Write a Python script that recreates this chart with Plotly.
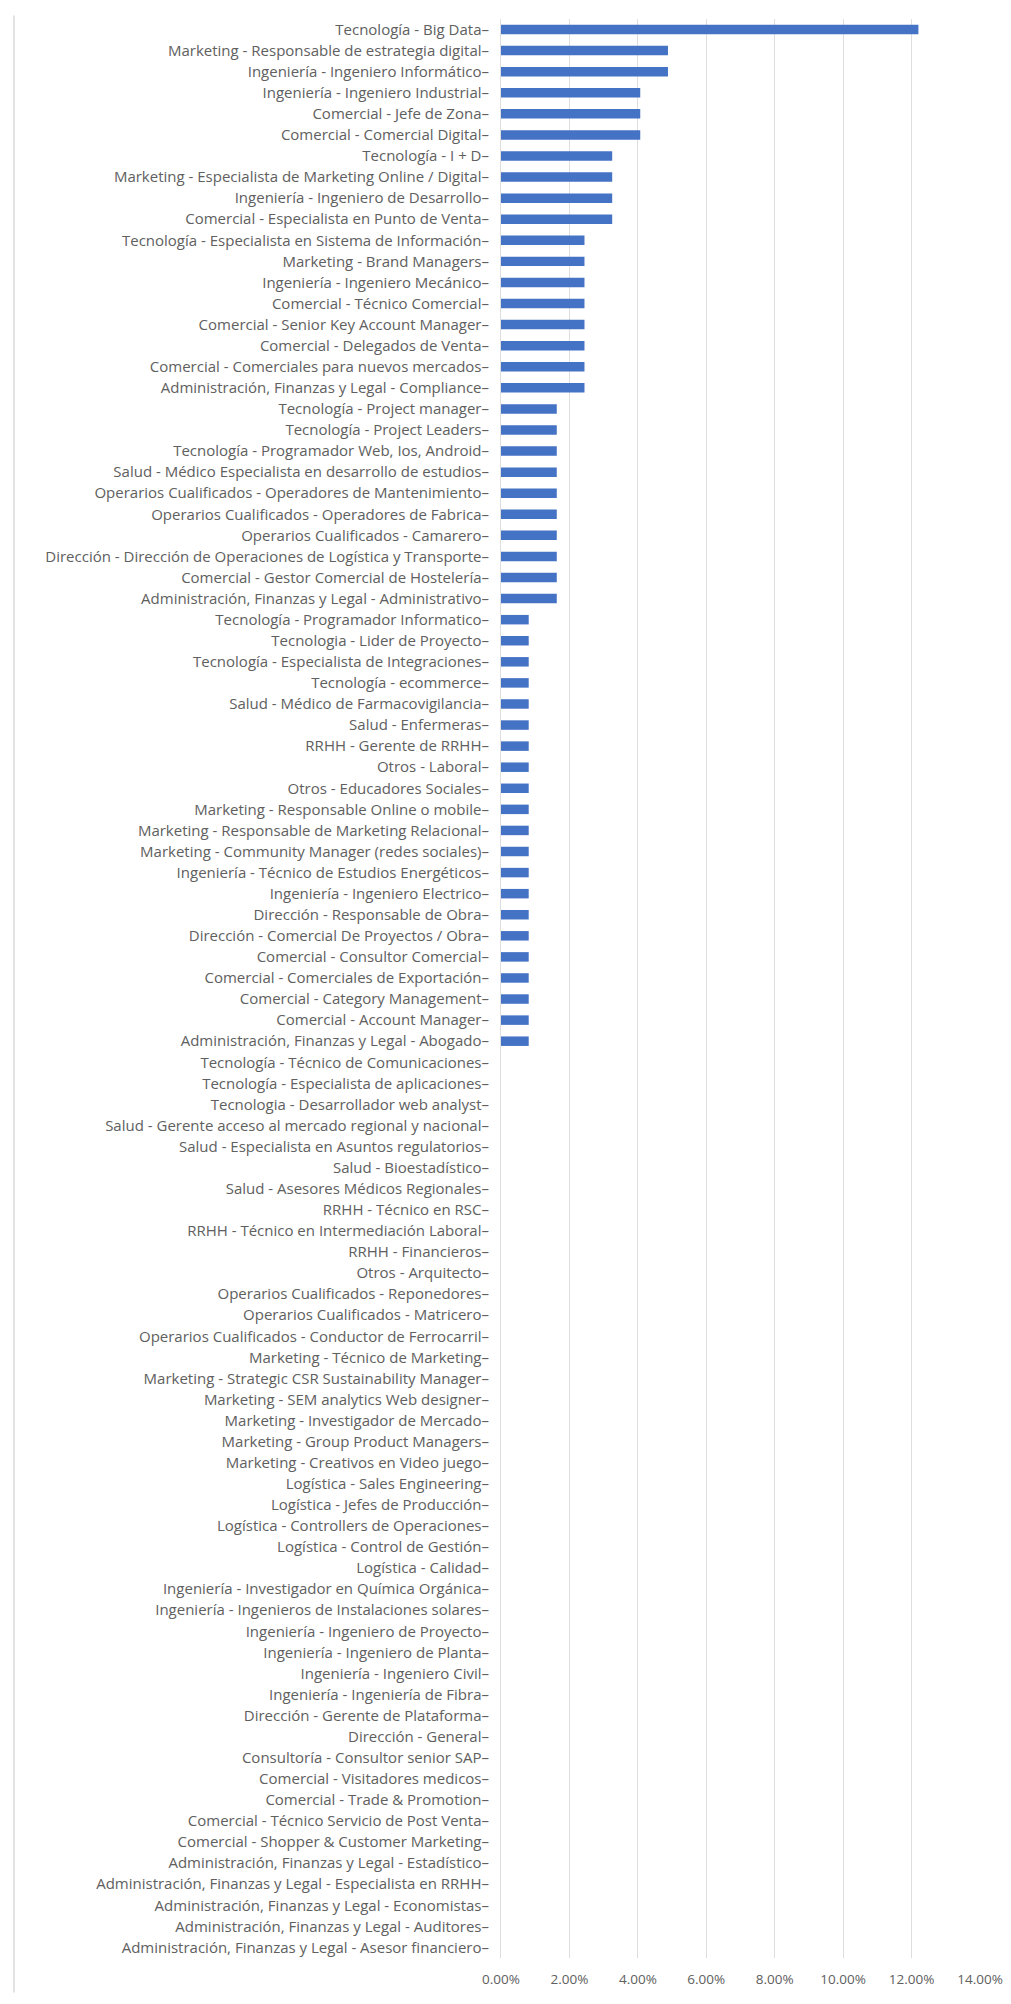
import plotly.graph_objects as go

categories = [
    "Tecnología - Big Data",
    "Marketing - Responsable de estrategia digital",
    "Ingeniería - Ingeniero Informático",
    "Ingeniería - Ingeniero Industrial",
    "Comercial - Jefe de Zona",
    "Comercial - Comercial Digital",
    "Tecnología - I + D",
    "Marketing - Especialista de Marketing Online / Digital",
    "Ingeniería - Ingeniero de Desarrollo",
    "Comercial - Especialista en Punto de Venta",
    "Tecnología - Especialista en Sistema de Información",
    "Marketing - Brand Managers",
    "Ingeniería - Ingeniero Mecánico",
    "Comercial - Técnico Comercial",
    "Comercial - Senior Key Account Manager",
    "Comercial - Delegados de Venta",
    "Comercial - Comerciales para nuevos mercados",
    "Administración, Finanzas y Legal - Compliance",
    "Tecnología - Project manager",
    "Tecnología - Project Leaders",
    "Tecnología - Programador Web, Ios, Android",
    "Salud - Médico Especialista en desarrollo de estudios",
    "Operarios Cualificados - Operadores de Mantenimiento",
    "Operarios Cualificados - Operadores de Fabrica",
    "Operarios Cualificados - Camarero",
    "Dirección - Dirección de Operaciones de Logística y Transporte",
    "Comercial - Gestor Comercial de Hostelería",
    "Administración, Finanzas y Legal - Administrativo",
    "Tecnología - Programador Informatico",
    "Tecnologia - Lider de Proyecto",
    "Tecnología - Especialista de Integraciones",
    "Tecnología - ecommerce",
    "Salud - Médico de Farmacovigilancia",
    "Salud - Enfermeras",
    "RRHH - Gerente de RRHH",
    "Otros - Laboral",
    "Otros - Educadores Sociales",
    "Marketing - Responsable Online o mobile",
    "Marketing - Responsable de Marketing Relacional",
    "Marketing - Community Manager (redes sociales)",
    "Ingeniería - Técnico de Estudios Energéticos",
    "Ingeniería - Ingeniero Electrico",
    "Dirección - Responsable de Obra",
    "Dirección - Comercial De Proyectos / Obra",
    "Comercial - Consultor Comercial",
    "Comercial - Comerciales de Exportación",
    "Comercial - Category Management",
    "Comercial - Account Manager",
    "Administración, Finanzas y Legal - Abogado",
    "Tecnología - Técnico de Comunicaciones",
    "Tecnología - Especialista de aplicaciones",
    "Tecnologia - Desarrollador web analyst",
    "Salud - Gerente acceso al mercado regional y nacional",
    "Salud - Especialista en Asuntos regulatorios",
    "Salud - Bioestadístico",
    "Salud - Asesores Médicos Regionales",
    "RRHH - Técnico en RSC",
    "RRHH - Técnico en Intermediación Laboral",
    "RRHH - Financieros",
    "Otros - Arquitecto",
    "Operarios Cualificados - Reponedores",
    "Operarios Cualificados - Matricero",
    "Operarios Cualificados - Conductor de Ferrocarril",
    "Marketing - Técnico de Marketing",
    "Marketing - Strategic CSR Sustainability Manager",
    "Marketing - SEM analytics Web designer",
    "Marketing - Investigador de Mercado",
    "Marketing - Group Product Managers",
    "Marketing - Creativos en Video juego",
    "Logística - Sales Engineering",
    "Logística - Jefes de Producción",
    "Logística - Controllers de Operaciones",
    "Logística - Control de Gestión",
    "Logística - Calidad",
    "Ingeniería - Investigador en Química Orgánica",
    "Ingeniería - Ingenieros de Instalaciones solares",
    "Ingeniería - Ingeniero de Proyecto",
    "Ingeniería - Ingeniero de Planta",
    "Ingeniería - Ingeniero Civil",
    "Ingeniería - Ingeniería de Fibra",
    "Dirección - Gerente de Plataforma",
    "Dirección - General",
    "Consultoría - Consultor senior SAP",
    "Comercial - Visitadores medicos",
    "Comercial - Trade & Promotion",
    "Comercial - Técnico Servicio de Post Venta",
    "Comercial - Shopper & Customer Marketing",
    "Administración, Finanzas y Legal - Estadístico",
    "Administración, Finanzas y Legal - Especialista en RRHH",
    "Administración, Finanzas y Legal - Economistas",
    "Administración, Finanzas y Legal - Auditores",
    "Administración, Finanzas y Legal - Asesor financiero",
]

values = [
    0.1220,
    0.0488, 0.0488,
    0.0407, 0.0407, 0.0407,
    0.0325, 0.0325, 0.0325, 0.0325,
    0.0244, 0.0244, 0.0244, 0.0244, 0.0244, 0.0244, 0.0244, 0.0244,
    0.0163, 0.0163, 0.0163, 0.0163, 0.0163, 0.0163, 0.0163, 0.0163, 0.0163, 0.0163,
    0.0081, 0.0081, 0.0081, 0.0081, 0.0081, 0.0081, 0.0081, 0.0081, 0.0081, 0.0081,
    0.0081, 0.0081, 0.0081, 0.0081, 0.0081, 0.0081, 0.0081, 0.0081, 0.0081, 0.0081,
    0.0081,
    0, 0, 0, 0, 0, 0, 0, 0, 0, 0,
    0, 0, 0, 0, 0, 0, 0, 0, 0, 0,
    0, 0, 0, 0, 0, 0, 0, 0, 0, 0,
    0, 0, 0, 0, 0, 0, 0, 0, 0, 0,
    0, 0, 0,
]

x_ticks = [0, 0.02, 0.04, 0.06, 0.08, 0.10, 0.12, 0.14]

# tick labels carry the small dash shown after each category name
y_ticktext = [c + "–" for c in categories]

W, H = 995, 1988  # page body keeps an 8px margin
L, R, T, B = 493, 23, 10.5, 37.5

fig = go.Figure(
    go.Bar(
        x=values,
        y=categories,
        orientation="h",
        marker=dict(color="#4472C4", line=dict(width=0)),
        width=0.45,
    )
)

# faint chart-area border on the left
px_x = (6 - L) / (W - L - R)
y_top = (H - B - 7) / (H - T - B)
y_bot = (H - B - 1985) / (H - T - B)
fig.add_shape(
    type="line", xref="paper", yref="paper",
    x0=px_x, x1=px_x, y0=y_bot, y1=y_top,
    line=dict(color="#e3e3e3", width=2),
)

fig.update_layout(
    width=W,
    height=H,
    margin=dict(l=L, r=R, t=T, b=B, autoexpand=False),
    paper_bgcolor="white",
    plot_bgcolor="white",
    font=dict(family="Open Sans, sans-serif", size=15, color="#606060"),
    showlegend=False,
)

fig.update_xaxes(
    range=[0, 0.14],
    tickvals=x_ticks,
    tickformat=".2%",
    showgrid=True,
    gridcolor="#dedede",
    gridwidth=1,
    zeroline=False,
    showline=False,
    ticks="",
    ticklabelstandoff=11,
    ticklabeloverflow="allow",
    tickfont=dict(size=13.5, color="#606060"),
)

fig.update_yaxes(
    type="category",
    autorange="reversed",
    tickmode="array",
    tickvals=categories,
    ticktext=y_ticktext,
    showline=True,
    linecolor="#dedede",
    linewidth=1,
    ticks="",
    ticklabelstandoff=8,
    showgrid=False,
    tickfont=dict(size=15, color="#606060"),
)

fig.write_html("out.html")
